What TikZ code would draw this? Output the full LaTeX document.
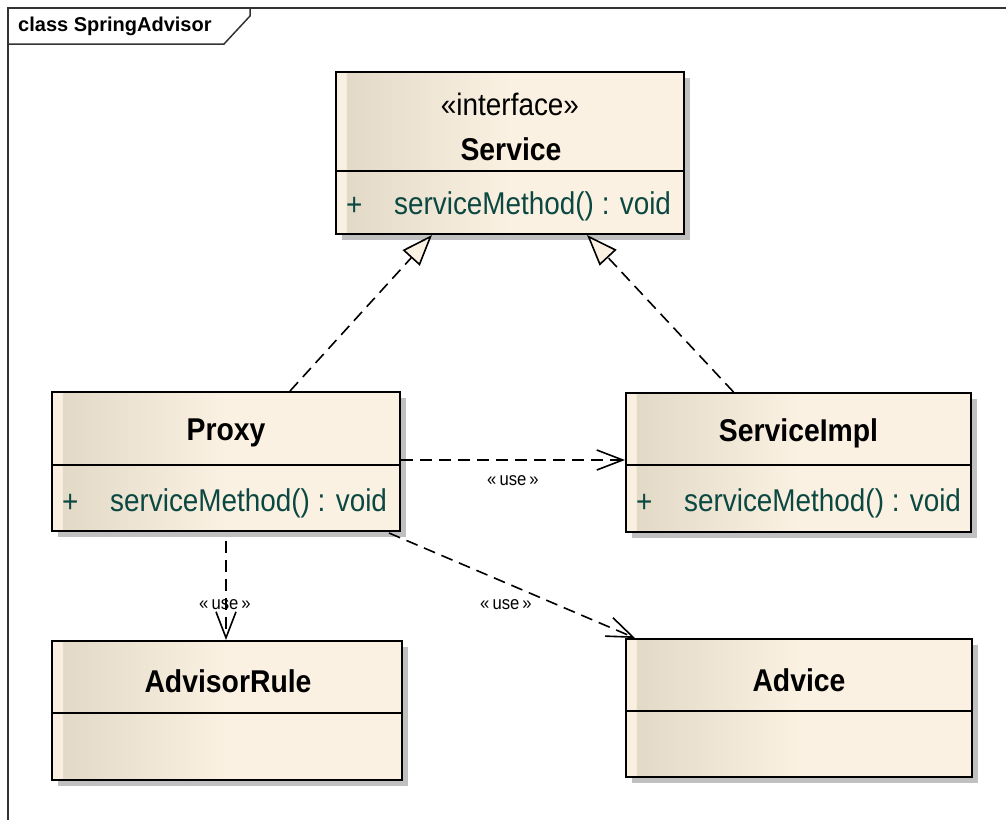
\documentclass[tikz,border=0pt]{standalone}
\usepackage{fontspec}
\setmainfont{Liberation Sans}
\newfontfamily\umlfont{Liberation Sans}[FakeStretch=0.9]
\newfontfamily\opfont{Liberation Sans}[FakeStretch=0.885]
\usetikzlibrary{arrows.meta,shadows}

\definecolor{cL}{RGB}{250,240,225}
\definecolor{cD}{RGB}{227,217,199}
\definecolor{cR}{RGB}{251,241,226}
\definecolor{opcol}{RGB}{12,72,66}
\definecolor{shadowcol}{RGB}{192,192,192}

% light edge strip, darker band, fading to the plain fill by mid-width
\pgfdeclarehorizontalshading{classfill}{100bp}{color(0bp)=(cL); color(25bp)=(cL); color(26.4bp)=(cL); color(26.6bp)=(cD); color(50bp)=(cR); color(100bp)=(cR)}

\tikzset{
  classbox/.style={draw=black, line width=2pt, shading=classfill, inner sep=0pt,
    drop shadow={shadow xshift=6pt, shadow yshift=-6pt, fill=shadowcol, opacity=1}},
  divider/.style={draw=black, line width=2pt},
  classname/.style={font=\umlfont\bfseries\fontsize{31.5}{36}\selectfont, inner sep=0pt},
  stereo/.style={font=\umlfont\fontsize{31}{36}\selectfont, inner sep=0pt},
  optext/.style={font=\opfont\fontsize{31.5}{36}\selectfont, text=opcol, inner sep=0pt, anchor=west},
  uselabel/.style={font=\umlfont\fontsize{18.5}{22}\selectfont, inner sep=0pt},
  conn/.style={draw=black, line width=1.6pt, dash pattern=on 12pt off 7pt},
  realize/.style={conn, -{Triangle[length=31pt,width=23pt,fill=cR,line width=1.6pt]}},
  usedep/.style={conn, -{Straight Barb[length=26pt,width=20pt,line width=1.6pt]}},
  frameline/.style={draw=black!80, line width=1.5pt},
}

\begin{document}
\begin{tikzpicture}[x=1pt, y=-1pt]
\useasboundingbox (0,0) rectangle (1006,820);

% diagram frame and its name tab
\draw[frameline] (1006,8) -- (8,8) -- (8,820);
\draw[frameline] (8,44) -- (224,44) -- (250,16) -- (250,8);
\node[anchor=west, inner sep=0pt, font=\bfseries\fontsize{20}{24}\selectfont] (title) at (18,26) {class SpringAdvisor};

% Service interface
\node[classbox, minimum width=348pt, minimum height=162pt] (service) at (510,153) {};
\draw[divider] (service.west |- 0,171) -- (service.east |- 0,171);
\node[stereo] (servicest) at (510,104) {«interface»};
\node[classname] (servicename) at (511,149) {Service};
\node[optext] (serviceplus) at (346,206) {+};
\node[optext] (serviceop) at (394,206) {serviceMethod() : void};

% Proxy
\node[classbox, minimum width=348pt, minimum height=139pt] (proxy) at (226,461.5) {};
\draw[divider] (proxy.west |- 0,465) -- (proxy.east |- 0,465);
\node[classname] (proxyname) at (226,433) {Proxy};
\node[optext] (proxyplus) at (62,503) {+};
\node[optext] (proxyop) at (110,503) {serviceMethod() : void};

% ServiceImpl
\node[classbox, minimum width=345pt, minimum height=139pt] (serviceimpl) at (798.5,462.5) {};
\draw[divider] (serviceimpl.west |- 0,465) -- (serviceimpl.east |- 0,465);
\node[classname] (serviceimplname) at (798.5,433) {ServiceImpl};
\node[optext] (serviceimplplus) at (636,503) {+};
\node[optext] (serviceimplop) at (684,503) {serviceMethod() : void};

% AdvisorRule
\node[classbox, minimum width=350pt, minimum height=139pt] (advisorrule) at (227,710.5) {};
\draw[divider] (advisorrule.west |- 0,713) -- (advisorrule.east |- 0,713);
\node[classname] (advisorrulename) at (228,681) {AdvisorRule};

% Advice
\node[classbox, minimum width=346pt, minimum height=138pt] (advice) at (799,708) {};
\draw[divider] (advice.west |- 0,711) -- (advice.east |- 0,711);
\node[classname] (advicename) at (799,680) {Advice};

% realizations of Service
\draw[realize] ([xshift=64pt]proxy.north) -- ([xshift=-78pt]service.south);
\draw[realize] ([xshift=-65pt]serviceimpl.north) -- ([xshift=77pt]service.south);

% usage dependencies
\draw[usedep] ([yshift=1.5pt]proxy.east) -- ([yshift=1.5pt]proxy.east -| serviceimpl.west);
\draw[usedep] ([yshift=-9pt]proxy.south) -- (proxy.south |- advisorrule.north);
\draw[usedep] ([xshift=-12pt,yshift=-1pt]proxy.south east) -- ([xshift=10pt]advice.north west);

\node[uselabel] (use1) at (513,481) {«\,use\,»};
\node[uselabel] (use2) at (225,605) {«\,use\,»};
\node[uselabel] (use3) at (506,605) {«\,use\,»};
\end{tikzpicture}
\end{document}
